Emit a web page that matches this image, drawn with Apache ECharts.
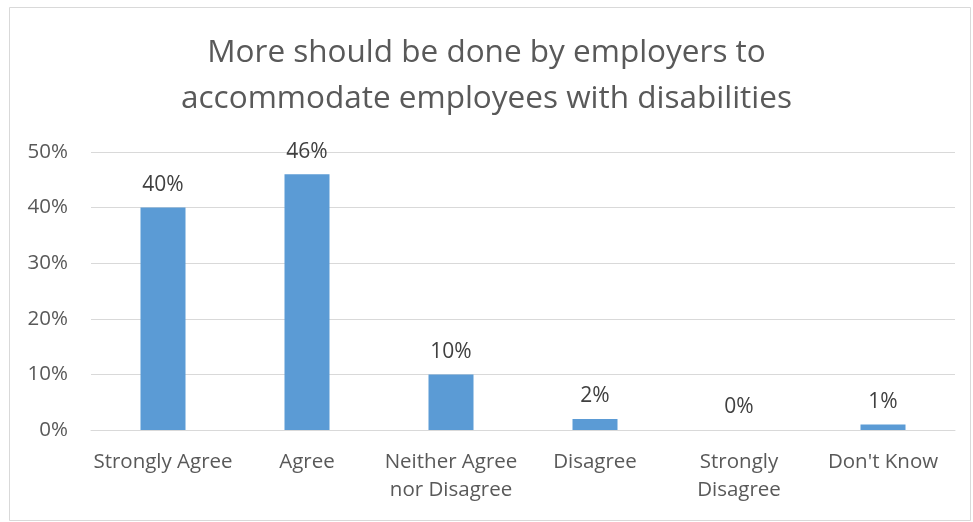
<!DOCTYPE html>
<html>
<head>
<meta charset="utf-8">
<title>More should be done by employers</title>
<script src="https://cdn.jsdelivr.net/npm/echarts@6/dist/echarts.min.js"></script>
<style>
  html, body { margin: 0; padding: 0; background: #ffffff; }
  #chart { width: 973px; height: 522px; }
</style>
</head>
<body>
<div id="chart"></div>
<script>
// Survey responses (percent of respondents)
const categories = ['Strongly Agree', 'Agree', 'Neither Agree\nnor Disagree', 'Disagree', 'Strongly\nDisagree', "Don't Know"];
const shares = [40, 46, 10, 2, 0, 1];
const yTicks = { min: 0, max: 50, interval: 10 };

const font = '"Open Sans", "Noto Sans", sans-serif';
const chart = echarts.init(document.getElementById('chart'));

chart.setOption({
  animation: false,
  backgroundColor: '#ffffff',
  title: {
    text: 'More should be done by employers to\naccommodate employees with disabilities',
    left: 'center',
    top: 25,
    textStyle: {
      fontFamily: font,
      fontSize: 31.5,
      fontWeight: 'normal',
      color: '#595959',
      lineHeight: 46
    }
  },
  graphic: [{
    type: 'rect',
    shape: { x: 9.5, y: 7.5, width: 961, height: 513 },
    style: { fill: 'none', stroke: '#d9d9d9', lineWidth: 1 },
    silent: true
  }],
  grid: { left: 91, right: 18, top: 152, bottom: 92, containLabel: false },
  xAxis: {
    type: 'category',
    data: categories,
    axisLine: { show: true, lineStyle: { color: '#d9d9d9', width: 1 } },
    axisTick: { show: false },
    axisLabel: {
      fontFamily: font,
      fontSize: 20.5,
      color: '#595959',
      lineHeight: 28,
      margin: 18,
      interval: 0
    }
  },
  yAxis: {
    type: 'value',
    min: yTicks.min,
    max: yTicks.max,
    interval: yTicks.interval,
    axisLine: { show: false },
    axisTick: { show: false },
    splitLine: { lineStyle: { color: '#d9d9d9', width: 1 } },
    axisLabel: {
      formatter: '{value}%',
      fontFamily: font,
      fontSize: 20.5,
      color: '#595959',
      margin: 23
    }
  },
  series: [{
    type: 'bar',
    data: shares,
    barWidth: 45,
    itemStyle: { color: '#5b9bd5' },
    label: {
      show: true,
      position: 'top',
      distance: 12,
      formatter: '{c}%',
      fontFamily: font,
      fontSize: 21,
      color: '#404040'
    }
  }]
});
</script>
</body>
</html>
